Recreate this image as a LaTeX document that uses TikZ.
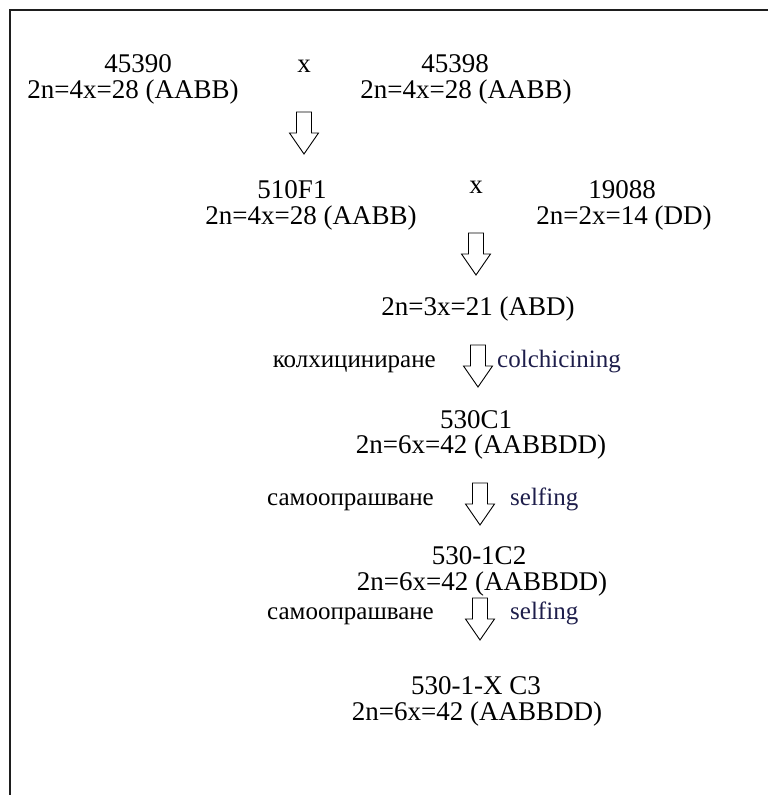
\documentclass[tikz,border=0pt]{standalone}
\usepackage{fontspec}
\setmainfont{Liberation Serif}
\definecolor{labelblue}{RGB}{30,30,75}
\definecolor{framegray}{RGB}{30,30,30}
\begin{document}
\begin{tikzpicture}[x=1pt,y=-1pt,
  main/.style={font=\fontsize{27}{27}\selectfont, inner sep=0pt, anchor=base},
  lbl/.style={font=\fontsize{25}{24}\selectfont, inner sep=0pt, anchor=base},
  eng/.style={font=\fontsize{25}{25}\selectfont, inner sep=0pt, text=labelblue},
  arrowline/.style={draw=black, line width=0.9pt, fill=white, line join=miter},
  frameline/.style={line width=2pt, draw=framegray},
  downarr/.pic={\draw[arrowline] (-7.5,0) -- (-7.5,21) -- (-14.5,21) -- (0,42) -- (14.5,21) -- (7.5,21) -- (7.5,0) -- cycle;}]
\useasboundingbox (0,0) rectangle (768,795);
\draw[frameline] (768,10) -- (10,10) -- (10,795);

% row 1
\node[main] (p1a) at (138,72.5) {45390};
\node[main] (p1b) at (133,98) {2n=4x=28 (AABB)};
\node[main] (x1) at (304,72.5) {x};
\node[main] (p2a) at (455,72.5) {45398};
\node[main] (p2b) at (466,98) {2n=4x=28 (AABB)};
\coordinate (a1) at (304,112);
\pic at (a1) {downarr};

% row 2
\node[main] (f1a) at (292,198.5) {510F1};
\node[main] (f1b) at (311,224) {2n=4x=28 (AABB)};
\node[main] (x2) at (476,193) {x};
\node[main] (p3a) at (622,198.5) {19088};
\node[main] (p3b) at (624,224) {2n=2x=14 (DD)};
\coordinate (a2) at (476,233);
\pic at (a2) {downarr};

% triploid
\node[main] (tri) at (478,315) {2n=3x=21 (ABD)};

% colchicine
\node[lbl, anchor=base east] (l1) at (436,367) {колхициниране};
\node[eng, anchor=base west] (e1) at (497,367) {colchicining};
\coordinate (a3) at (478,345);
\pic at (a3) {downarr};

% C1
\node[main] (c1a) at (476,428) {530C1};
\node[main] (c1b) at (481,453.5) {2n=6x=42 (AABBDD)};

% selfing 1
\node[lbl, anchor=base east] (l2) at (434,505) {самоопрашване};
\node[eng, anchor=base west] (e2) at (510,505) {selfing};
\coordinate (a4) at (480,483);
\pic at (a4) {downarr};

% C2
\node[main] (c2a) at (479,564.5) {530-1C2};
\node[main] (c2b) at (482,590) {2n=6x=42 (AABBDD)};

% selfing 2
\node[lbl, anchor=base east] (l3) at (434,619) {самоопрашване};
\node[eng, anchor=base west] (e3) at (510,619) {selfing};
\coordinate (a5) at (480,598);
\pic at (a5) {downarr};

% C3
\node[main] (c3a) at (476,694.5) {530-1-X C3};
\node[main] (c3b) at (477,720) {2n=6x=42 (AABBDD)};
\end{tikzpicture}
\end{document}
